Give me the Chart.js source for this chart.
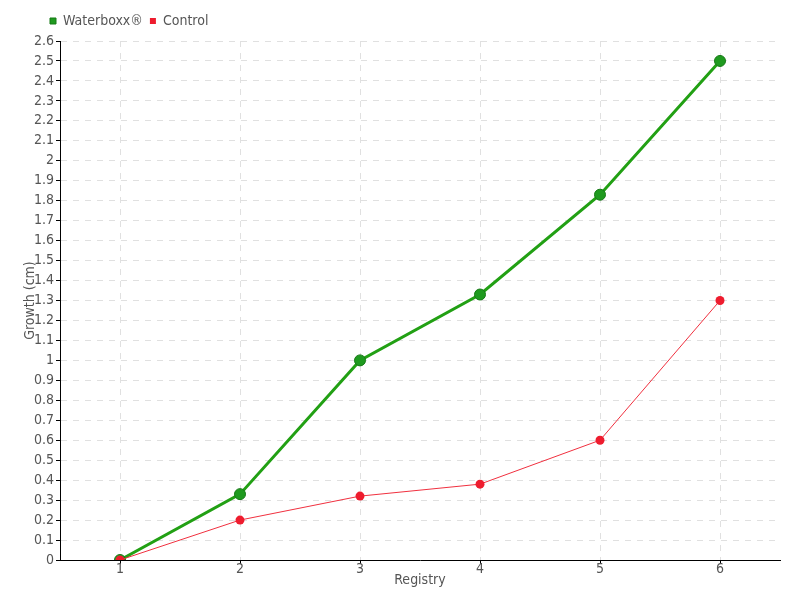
<!DOCTYPE html>
<html>
<head>
<meta charset="utf-8">
<script src="https://cdn.jsdelivr.net/npm/chart.js@4/dist/chart.umd.min.js"></script>
<style>
  html, body { margin: 0; padding: 0; background: #fff; }
  #wrap { width: 800px; height: 600px; }
</style>
</head>
<body>
<div id="wrap"><canvas id="c"></canvas></div>
<script>
// Data
const registry = ['1', '2', '3', '4', '5', '6'];
const waterboxx = [0, 0.33, 1.0, 1.33, 1.83, 2.5];
const control = [0, 0.2, 0.32, 0.38, 0.6, 1.3];

// Theme
Chart.defaults.font.family = "'DejaVu Sans Condensed', 'Liberation Sans Narrow', sans-serif";
Chart.defaults.font.size = 14;
Chart.defaults.color = '#555';

const gridDash = { color: '#e0e0e0', tickColor: '#000', tickLength: 4, tickBorderDash: [] };

// nudge the legend: move it right and leave a little more room under it
const legendShift = {
    id: 'legendShift',
    beforeLayout(chart) {
        const lg = chart.legend;
        if (lg && !lg._padded) {
            const fit = lg.fit.bind(lg);
            lg.fit = function () { fit(); this.height += 3; };
            lg._padded = true;
        }
    },
    afterLayout(chart) {
        if (chart.legend) chart.legend.left = 43;
    },
};

new Chart(document.getElementById('c'), {
    type: 'line',
    data: {
        labels: registry,
        datasets: [
            {
                label: 'Waterboxx®',
                data: waterboxx,
                borderColor: '#22a014',
                backgroundColor: '#1f9a1f',
                borderWidth: 3,
                pointRadius: 5.5,
                pointBorderColor: '#177a17',
                pointBorderWidth: 1,
                pointBackgroundColor: '#1f9a1f',
                tension: 0,
                order: 2,
            },
            {
                label: 'Control',
                data: control,
                borderColor: '#f0303f',
                backgroundColor: '#ee1c2e',
                borderWidth: 1,
                pointRadius: 4.5,
                pointBorderWidth: 0,
                pointBackgroundColor: '#ee1c2e',
                tension: 0,
                order: 1,
            },
        ],
    },
    options: {
        responsive: true,
        maintainAspectRatio: false,
        animation: false,
        layout: { padding: { left: 0, right: 20, top: 7, bottom: 0 } },
        plugins: {
            legend: {
                position: 'top',
                align: 'start',
                labels: {
                    usePointStyle: true,
                    pointStyle: 'rect',
                    boxWidth: 6,
                    boxHeight: 6,
                    padding: 7,
                    font: { size: 14 },
                    sort: (a, b) => a.datasetIndex - b.datasetIndex,
                },
            },
            tooltip: { enabled: false },
        },
        scales: {
            x: {
                offset: true,
                grid: { ...gridDash, offset: false },
                border: { display: true, color: '#000', width: 1, dash: [6, 6] },
                ticks: { padding: -3, font: { size: 14 } },
                title: { display: true, text: 'Registry', padding: { top: 0, bottom: 11 }, font: { size: 14 } },
                afterFit: (s) => { s.height = 40; },
            },
            y: {
                min: 0,
                max: 2.6,
                grid: { ...gridDash },
                border: { display: true, color: '#000', width: 1, dash: [6, 6] },
                ticks: { stepSize: 0.1, padding: 2, font: { size: 14 }, autoSkip: false,
                    callback: (v) => Math.round(v * 10) / 10 },
                title: { display: true, text: 'Growth (cm)', padding: { top: 22, bottom: 0 }, font: { size: 14 } },
                afterFit: (s) => { s.width = 60; },
            },
        },
    },
    plugins: [legendShift],
});
</script>
</body>
</html>
